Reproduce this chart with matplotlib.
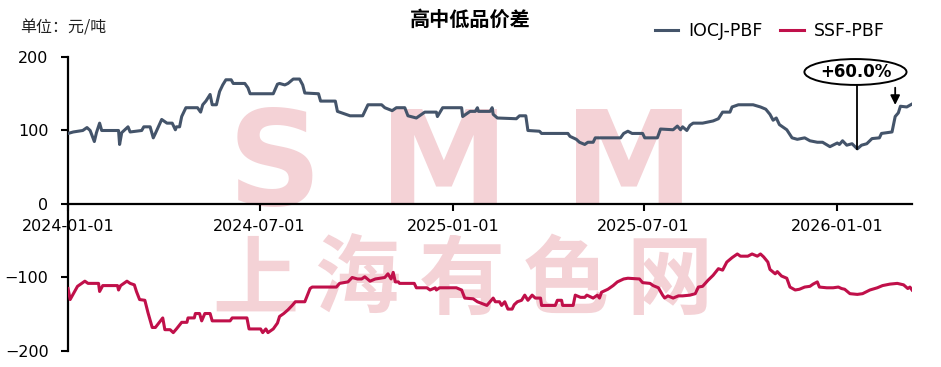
import matplotlib
matplotlib.use("Agg")
import matplotlib.pyplot as plt
import matplotlib.dates as mdates
from matplotlib.patches import Ellipse
import pandas as pd

# --- data ---
IOCJ_DATES = [
    "2024-01-01", "2024-01-06", "2024-01-15", "2024-01-19", "2024-01-22", "2024-01-26", "2024-01-28",
    "2024-01-31", "2024-02-02", "2024-02-18", "2024-02-19", "2024-02-21", "2024-02-27", "2024-02-29",
    "2024-03-11", "2024-03-13", "2024-03-19", "2024-03-22", "2024-03-24", "2024-03-30", "2024-04-04",
    "2024-04-09", "2024-04-12", "2024-04-13", "2024-04-16", "2024-04-18", "2024-04-22", "2024-05-03",
    "2024-05-06", "2024-05-08", "2024-05-11", "2024-05-15", "2024-05-17", "2024-05-21", "2024-05-24",
    "2024-05-27", "2024-05-30", "2024-06-04", "2024-06-06", "2024-06-17", "2024-06-20", "2024-06-22",
    "2024-07-14", "2024-07-18", "2024-07-20", "2024-07-25", "2024-07-28", "2024-08-02", "2024-08-08",
    "2024-08-11", "2024-08-13", "2024-08-26", "2024-08-28", "2024-09-11", "2024-09-13", "2024-09-25",
    "2024-10-07", "2024-10-12", "2024-10-25", "2024-10-28", "2024-11-04", "2024-11-08", "2024-11-16",
    "2024-11-19", "2024-11-27", "2024-12-05", "2024-12-16", "2024-12-17", "2024-12-22", "2025-01-09",
    "2025-01-10", "2025-01-17", "2025-01-22", "2025-01-24", "2025-01-25", "2025-02-05", "2025-02-07",
    "2025-02-08", "2025-02-12", "2025-03-02", "2025-03-05", "2025-03-11", "2025-03-13", "2025-03-24",
    "2025-03-26", "2025-04-20", "2025-04-22", "2025-04-28", "2025-05-01", "2025-05-06", "2025-05-09",
    "2025-05-14", "2025-05-16", "2025-06-09", "2025-06-12", "2025-06-16", "2025-06-20", "2025-06-30",
    "2025-07-02", "2025-07-14", "2025-07-17", "2025-07-29", "2025-08-02", "2025-08-05", "2025-08-07",
    "2025-08-11", "2025-08-14", "2025-08-17", "2025-08-26", "2025-09-05", "2025-09-10", "2025-09-14",
    "2025-09-21", "2025-09-23", "2025-09-29", "2025-10-13", "2025-10-20", "2025-10-25", "2025-10-29",
    "2025-11-01", "2025-11-04", "2025-11-07", "2025-11-14", "2025-11-19", "2025-11-24", "2025-12-01",
    "2025-12-06", "2025-12-13", "2025-12-18", "2025-12-25", "2026-01-01", "2026-01-03", "2026-01-06",
    "2026-01-10", "2026-01-15", "2026-01-20", "2026-01-24", "2026-01-29", "2026-02-03", "2026-02-10",
    "2026-02-12", "2026-02-22", "2026-02-25", "2026-02-28", "2026-03-02", "2026-03-08", "2026-03-13",
]
IOCJ_VALUES = [
    96, 98, 100, 104, 100, 85, 97,
    110, 100, 100, 81, 97, 105, 98,
    100, 105, 105, 90, 96, 115, 110,
    110, 101, 105, 105, 119, 131, 131,
    125, 135, 140, 149, 135, 135, 153,
    162, 169, 169, 164, 164, 158, 150,
    150, 163, 164, 162, 164, 170, 170,
    162, 151, 150, 140, 140, 126, 120,
    120, 135, 135, 131, 127, 131, 131,
    120, 117, 125, 125, 119, 131, 131,
    119, 126, 126, 131, 126, 126, 131,
    122, 117, 116, 120, 120, 100, 99,
    96, 96, 92, 88, 84, 81, 84,
    84, 90, 90, 96, 99, 96, 96,
    90, 90, 102, 101, 106, 101, 105,
    100, 107, 110, 110, 113, 116, 125,
    125, 132, 135, 135, 132, 129, 122,
    114, 117, 108, 101, 90, 88, 90,
    86, 84, 84, 78, 83, 81, 86,
    80, 82, 75, 80, 82, 89, 90,
    96, 98, 119, 124, 133, 132, 136,
]

SSF_DATES = [
    "2024-01-01", "2024-01-03", "2024-01-10", "2024-01-17", "2024-01-20", "2024-01-30", "2024-01-31",
    "2024-02-03", "2024-02-17", "2024-02-18", "2024-02-20", "2024-02-26", "2024-02-29", "2024-03-04",
    "2024-03-06", "2024-03-09", "2024-03-14", "2024-03-17", "2024-03-21", "2024-03-24", "2024-03-31",
    "2024-04-02", "2024-04-07", "2024-04-10", "2024-04-13", "2024-04-18", "2024-04-23", "2024-04-24",
    "2024-04-30", "2024-05-01", "2024-05-05", "2024-05-07", "2024-05-10", "2024-05-15", "2024-05-17",
    "2024-06-03", "2024-06-05", "2024-06-19", "2024-06-21", "2024-07-02", "2024-07-04", "2024-07-07",
    "2024-07-09", "2024-07-14", "2024-07-18", "2024-07-20", "2024-07-24", "2024-07-28", "2024-08-01",
    "2024-08-04", "2024-08-13", "2024-08-18", "2024-08-20", "2024-09-12", "2024-09-15", "2024-09-23",
    "2024-09-27", "2024-10-02", "2024-10-06", "2024-10-09", "2024-10-14", "2024-10-19", "2024-10-28",
    "2024-10-31", "2024-11-03", "2024-11-05", "2024-11-07", "2024-11-10", "2024-11-11", "2024-11-25",
    "2024-11-27", "2024-12-07", "2024-12-10", "2024-12-15", "2024-12-16", "2024-12-19", "2025-01-04",
    "2025-01-09", "2025-01-12", "2025-01-20", "2025-01-24", "2025-02-02", "2025-02-08", "2025-02-10",
    "2025-02-14", "2025-02-16", "2025-02-19", "2025-02-22", "2025-02-26", "2025-02-28", "2025-03-03",
    "2025-03-07", "2025-03-10", "2025-03-13", "2025-03-17", "2025-03-20", "2025-03-25", "2025-03-26",
    "2025-04-08", "2025-04-10", "2025-04-14", "2025-04-15", "2025-04-25", "2025-04-27", "2025-05-02",
    "2025-05-06", "2025-05-08", "2025-05-14", "2025-05-18", "2025-05-20", "2025-05-22", "2025-05-28",
    "2025-06-02", "2025-06-06", "2025-06-12", "2025-06-16", "2025-06-27", "2025-06-30", "2025-07-07",
    "2025-07-10", "2025-07-15", "2025-07-19", "2025-07-21", "2025-07-24", "2025-07-29", "2025-08-03",
    "2025-08-07", "2025-08-14", "2025-08-19", "2025-08-22", "2025-08-26", "2025-08-31", "2025-09-05",
    "2025-09-10", "2025-09-14", "2025-09-18", "2025-09-23", "2025-09-28", "2025-10-01", "2025-10-08",
    "2025-10-12", "2025-10-17", "2025-10-20", "2025-10-23", "2025-10-27", "2025-10-29", "2025-11-03",
    "2025-11-05", "2025-11-09", "2025-11-14", "2025-11-17", "2025-11-22", "2025-11-26", "2025-12-01",
    "2025-12-06", "2025-12-09", "2025-12-13", "2025-12-15", "2025-12-22", "2025-12-28", "2026-01-02",
    "2026-01-05", "2026-01-08", "2026-01-13", "2026-01-20", "2026-01-25", "2026-02-01", "2026-02-08",
    "2026-02-13", "2026-02-20", "2026-02-27", "2026-03-05", "2026-03-09", "2026-03-11", "2026-03-13",
]
SSF_VALUES = [
    -115, -130, -112, -105, -108, -108, -119,
    -111, -111, -117, -111, -105, -108, -110,
    -119, -130, -131, -148, -168, -168, -155,
    -171, -171, -175, -170, -161, -161, -155,
    -155, -149, -149, -159, -149, -149, -159,
    -159, -155, -155, -170, -170, -175, -170,
    -175, -170, -162, -153, -149, -144, -138,
    -133, -133, -115, -113, -113, -108, -106,
    -100, -102, -102, -99, -105, -102, -100,
    -95, -102, -93, -106, -106, -108, -108,
    -114, -114, -117, -114, -117, -114, -114,
    -117, -128, -129, -133, -138, -128, -133,
    -133, -138, -133, -143, -143, -137, -133,
    -131, -124, -131, -124, -128, -128, -138,
    -138, -131, -131, -138, -138, -124, -127,
    -127, -124, -128, -124, -128, -120, -116,
    -111, -106, -102, -101, -102, -107, -108,
    -111, -114, -124, -128, -125, -128, -125,
    -125, -124, -122, -113, -112, -104, -97,
    -88, -90, -79, -73, -68, -71, -71,
    -68, -71, -68, -72, -79, -89, -95,
    -92, -98, -101, -113, -117, -116, -113,
    -112, -109, -106, -113, -114, -114, -113,
    -115, -116, -122, -123, -122, -117, -114,
    -111, -109, -108, -110, -115, -113, -117,
]

X_TICKS = ["2024-01-01", "2024-07-01", "2025-01-01", "2025-07-01", "2026-01-01"]
Y_TICKS = [-200, -100, 0, 100, 200]

IOCJ_COLOR = "#44546A"
SSF_COLOR = "#C0104A"

plt.rcParams["font.family"] = ["DejaVu Sans", "Noto Sans CJK SC"]

iocj = pd.Series(IOCJ_VALUES, index=pd.to_datetime(IOCJ_DATES))
ssf = pd.Series(SSF_VALUES, index=pd.to_datetime(SSF_DATES))

fig = plt.figure(figsize=(9.41, 3.67), dpi=100)
ax = fig.add_axes([0.0723, 0.0436, 0.8969, 0.8011])

# watermark, one glyph at a time so it spreads like the logo
wm = "#f4d2d6"
for ch, xf in zip("SMM", [0.245, 0.445, 0.665]):
    ax.text(xf, 0.495, ch, transform=ax.transAxes, ha="center", va="baseline",
            fontsize=94, fontweight="bold", color=wm, zorder=0, family=["DejaVu Sans"])
for ch, xf in zip("上海有色网", [0.222, 0.343, 0.467, 0.59, 0.712]):
    ax.text(xf, 0.235, ch, transform=ax.transAxes, ha="center", va="center",
            fontsize=62, fontweight="bold", color=wm, zorder=0, family=["Noto Sans CJK SC"])

ax.plot(iocj.index, iocj.values, color=IOCJ_COLOR, lw=2.2, label="IOCJ-PBF", zorder=3)
ax.plot(ssf.index, ssf.values, color=SSF_COLOR, lw=2.2, label="SSF-PBF", zorder=3)

ax.set_xlim(pd.Timestamp("2024-01-01"), iocj.index[-1])
ax.set_ylim(-200, 200)

for s in ["top", "right"]:
    ax.spines[s].set_visible(False)
ax.spines["bottom"].set_position(("data", 0))
ax.spines["left"].set_linewidth(1.6)
ax.spines["bottom"].set_linewidth(1.6)

ax.set_xticks(pd.to_datetime(X_TICKS))
ax.xaxis.set_major_formatter(mdates.DateFormatter("%Y-%m-%d"))
ax.set_yticks(Y_TICKS)
ax.tick_params(axis="x", direction="out", length=5, width=1.5, pad=6, labelsize=11.5)
ax.tick_params(axis="y", direction="out", length=5, width=1.5, pad=9, labelsize=11.5)
for lab in ax.get_xticklabels():
    lab.set_bbox(dict(facecolor="white", edgecolor="none", pad=0.5))

# title, unit, legend
fig.text(0.5, 0.948, "高中低品价差", ha="center", va="center", fontsize=14.5,
         fontweight="bold", family=["Noto Sans CJK SC"])
fig.text(0.021, 0.925, "单位：元/吨", ha="left", va="center", fontsize=11.5,
         color="#222222", family=["Noto Sans CJK SC"])
ax.legend(loc="center right", bbox_to_anchor=(0.968, 1.088), ncol=2, frameon=False,
          fontsize=12.5, handlelength=1.35, columnspacing=1.0, handletextpad=0.6,
          borderpad=0, borderaxespad=0)

# +60% annotation
low_date = iocj["2025-12-01":].idxmin()
low_val = iocj[low_date]
arrow_date = pd.Timestamp("2026-02-25")
arrow_val = iocj[:arrow_date].iloc[-1]
ell = Ellipse((0.933, 0.949), 0.121, 0.088, transform=ax.transAxes,
              facecolor="white", edgecolor="black", lw=1.4, zorder=5, clip_on=False)
ax.add_patch(ell)
ax.text(0.933, 0.949, "+60.0%", transform=ax.transAxes, ha="center", va="center",
        fontsize=12, fontweight="bold", zorder=6)
ax.plot([low_date, low_date], [low_val, 162], color="black", lw=1.3, zorder=4)
ax.annotate("", xy=(arrow_date, arrow_val + 12), xytext=(arrow_date, 162),
            arrowprops=dict(arrowstyle="-|>", color="black", lw=1.3, mutation_scale=14),
            zorder=4)

fig.savefig("out.png", dpi=100)
